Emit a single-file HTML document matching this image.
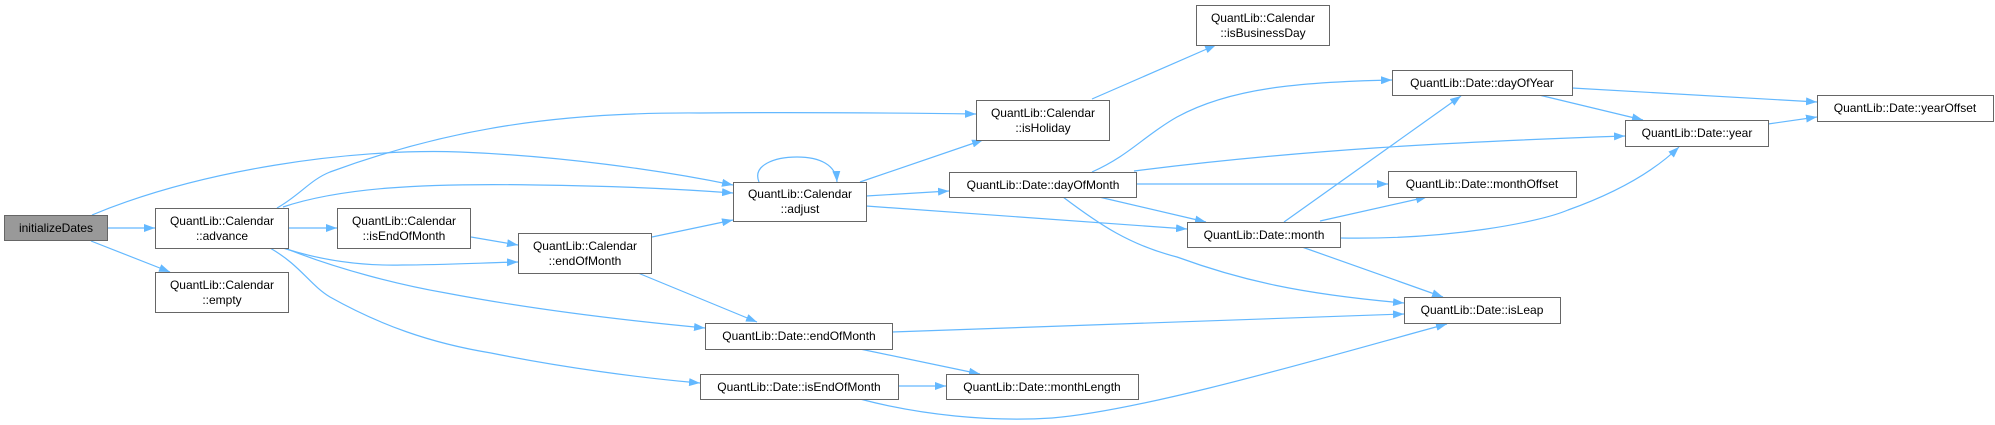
<!DOCTYPE html>
<html><head><meta charset="utf-8"><style>
html,body{margin:0;padding:0;background:#fff;width:1995px;height:425px;overflow:hidden}
svg text{font-family:"Liberation Sans",Arial,sans-serif;font-size:12px;fill:#000;text-anchor:middle}
</style></head><body>
<svg width="1995" height="425" viewBox="0 0 1995 425" xmlns="http://www.w3.org/2000/svg">
<defs>
<marker id="a" markerWidth="11" markerHeight="8" refX="11" refY="4" orient="auto" markerUnits="userSpaceOnUse">
<path d="M0,0 L11,4 L0,8 Z" fill="#63b8ff"/>
</marker>
</defs>
<g fill="none" stroke="#63b8ff" stroke-width="1.2" marker-end="url(#a)">
<path d="M108,228 L155,228"/>
<path d="M91,241 L170,272"/>
<path d="M92,215 C200,170 350,148 460,152 C560,156 660,170 733,185"/>
<path d="M277,208 C300,195 310,180 330,172 C450,128 560,112 700,113 C800,112 900,113 976,114"/>
<path d="M283,207 C340,188 420,183 536,185 C620,186 680,189 733,193"/>
<path d="M289,228 L337,228"/>
<path d="M283,248 C320,260 360,266 402,265 C440,265 480,263 518,262"/>
<path d="M287,249 C340,270 400,285 446,293 C530,309 620,320 705,328"/>
<path d="M270,248 C300,265 310,285 330,297 C380,325 430,343 491,353 C560,367 640,378 700,383"/>
<path d="M471,237 L518,245"/>
<path d="M652,237 L733,220"/>
<path d="M638,273 L757,322"/>
<path d="M759,182 C752,165 775,157 797,157 C820,157 836,165 837,182"/>
<path d="M860,182 L983,140"/>
<path d="M866,196 L949,191"/>
<path d="M866,206 L1187,229"/>
<path d="M1092,99 L1216,45"/>
<path d="M1092,172 C1130,155 1145,135 1177,117 C1230,88 1300,82 1392,80"/>
<path d="M1134,171 C1300,150 1450,142 1625,136"/>
<path d="M1136,184 L1388,184"/>
<path d="M1099,197 L1206,222"/>
<path d="M1063,197 C1100,225 1130,245 1177,257 C1240,280 1300,294 1404,303"/>
<path d="M1284,222 L1461,96"/>
<path d="M1320,221 L1427,197"/>
<path d="M1340,238 C1450,240 1540,222 1568,210 C1610,195 1650,175 1679,147"/>
<path d="M1302,247 L1443,297"/>
<path d="M892,332 L1404,314"/>
<path d="M860,349 L980,374"/>
<path d="M898,386 L946,386"/>
<path d="M860,399 C920,415 990,422 1052,418 C1150,410 1350,350 1447,324"/>
<path d="M1539,95 L1643,120"/>
<path d="M1572,88 L1817,102"/>
<path d="M1768,124 L1817,117"/>
</g>
<g stroke="#666" stroke-width="1" fill="#fff">
<rect x="4.5" y="215.5" width="103" height="25" fill="#999"/>
<rect x="155.5" y="208.5" width="133" height="40"/>
<rect x="155.5" y="272.5" width="133" height="40"/>
<rect x="337.5" y="208.5" width="133" height="40"/>
<rect x="518.5" y="233.5" width="133" height="40"/>
<rect x="1196.5" y="5.5" width="133" height="40"/>
<rect x="976.5" y="100.5" width="133" height="40"/>
<rect x="733.5" y="182.5" width="133" height="39"/>
<rect x="949.5" y="172.5" width="187" height="25"/>
<rect x="1187.5" y="222.5" width="153" height="25"/>
<rect x="705.5" y="323.5" width="187" height="26"/>
<rect x="700.5" y="374.5" width="198" height="25"/>
<rect x="946.5" y="374.5" width="192" height="25"/>
<rect x="1392.5" y="70.5" width="180" height="25"/>
<rect x="1817.5" y="95.5" width="176" height="26"/>
<rect x="1625.5" y="120.5" width="143" height="26"/>
<rect x="1388.5" y="171.5" width="188" height="26"/>
<rect x="1404.5" y="297.5" width="156" height="26"/>
</g>
<text x="56" y="232">initializeDates</text>
<text x="222" y="225">QuantLib::Calendar</text><text x="222" y="240">::advance</text>
<text x="222" y="289">QuantLib::Calendar</text><text x="222" y="304">::empty</text>
<text x="404" y="225">QuantLib::Calendar</text><text x="404" y="240">::isEndOfMonth</text>
<text x="585" y="250">QuantLib::Calendar</text><text x="585" y="265">::endOfMonth</text>
<text x="1263" y="22">QuantLib::Calendar</text><text x="1263" y="37">::isBusinessDay</text>
<text x="1043" y="117">QuantLib::Calendar</text><text x="1043" y="132">::isHoliday</text>
<text x="800" y="198">QuantLib::Calendar</text><text x="800" y="213">::adjust</text>
<text x="1043" y="189">QuantLib::Date::dayOfMonth</text>
<text x="1264" y="239">QuantLib::Date::month</text>
<text x="799" y="340">QuantLib::Date::endOfMonth</text>
<text x="799" y="391">QuantLib::Date::isEndOfMonth</text>
<text x="1042" y="391">QuantLib::Date::monthLength</text>
<text x="1482" y="87">QuantLib::Date::dayOfYear</text>
<text x="1905" y="112">QuantLib::Date::yearOffset</text>
<text x="1697" y="137">QuantLib::Date::year</text>
<text x="1482" y="188">QuantLib::Date::monthOffset</text>
<text x="1482" y="314">QuantLib::Date::isLeap</text>
</svg>
</body></html>
